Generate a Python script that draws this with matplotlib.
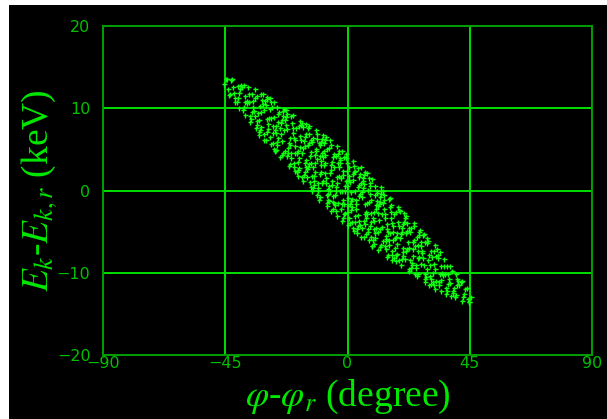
import matplotlib
matplotlib.use("Agg")
import matplotlib.pyplot as plt
from matplotlib.patches import Rectangle

# phase offset (degree) of each macro-particle
phi = [
    -43.6, -44.8, -43.9, -44.3, -43.1, -45.4,
    -42.6, -41.5, -42.1, -41.3, -42.9, -41.8,
    -39.8, -39.4, -40.4, -39.2, -40.7, -40.0, -40.2,
    -38.0, -38.2, -37.7, -37.6, -38.8, -37.9, -38.3, -37.1,
    -35.9, -36.3, -35.1, -36.6, -35.5, -36.1, -35.3, -36.9, -35.8,
    -34.1, -33.3, -34.9, -33.8, -33.4, -34.4, -33.2, -34.7, -34.0, -34.2,
    -32.4, -31.2, -32.7, -32.0, -32.2, -31.7, -31.6, -32.8, -31.9, -32.3, -31.1, -32.6,
    -29.7, -29.6, -30.8, -29.9, -30.3, -29.1, -30.6, -29.5, -30.1, -29.3, -30.9, -29.8,
    -27.1, -28.6, -27.5, -28.1, -27.3, -28.9, -27.8, -27.4, -28.4, -27.2, -28.7, -28.0, -28.2,
    -26.9, -25.8, -25.4, -26.4, -25.2, -26.7, -26.0, -26.2, -25.7, -25.6, -26.8, -25.9, -26.3,
    -24.7, -24.0, -24.2, -23.7, -23.6, -24.8, -23.9, -24.3, -23.1, -24.6, -23.5, -24.1, -23.3,
    -22.8, -21.9, -22.3, -21.1, -22.6, -21.5, -22.1, -21.3, -22.9, -21.8, -21.4, -22.4, -21.2, -22.7,
    -19.5, -20.1, -19.3, -20.9, -19.8, -19.4, -20.4, -19.2, -20.7, -20.0, -20.2, -19.7, -19.6, -20.8,
    -17.4, -18.4, -17.2, -18.7, -18.0, -18.2, -17.7, -17.6, -18.8, -17.9, -18.3, -17.1, -18.6, -17.5, -18.1,
    -16.2, -15.7, -15.6, -16.8, -15.9, -16.3, -15.1, -16.6, -15.5, -16.1, -15.3, -16.9, -15.8, -15.4, -16.4, -15.2,
    -14.3, -13.1, -14.6, -13.5, -14.1, -13.3, -14.9, -13.8, -13.4, -14.4, -13.2, -14.7, -14.0, -14.2, -13.7, -13.6, -14.8,
    -11.3, -12.9, -11.8, -11.4, -12.4, -11.2, -12.7, -12.0, -12.2, -11.7, -11.6, -12.8, -11.9, -12.3, -11.1, -12.6, -11.5,
    -9.2, -10.7, -10.0, -10.2, -9.7, -9.6, -10.8, -9.9, -10.3, -9.1, -10.6, -9.5, -10.1, -9.3, -10.9, -9.8, -9.4, -10.4,
    -7.6, -8.8, -7.9, -8.3, -7.1, -8.6, -7.5, -8.1, -7.3, -8.9, -7.8, -7.4, -8.4, -7.2, -8.7, -8.0, -8.2, -7.7,
    -6.6, -5.5, -6.1, -5.3, -6.9, -5.8, -5.4, -6.4, -5.2, -6.7, -6.0, -6.2, -5.7, -5.6, -6.8, -5.9, -6.3, -5.1,
    -3.8, -3.4, -4.4, -3.2, -4.7, -4.0, -4.2, -3.7, -3.6, -4.8, -3.9, -4.3, -3.1, -4.6, -3.5, -4.1, -3.3, -4.9,
    -2.0, -2.2, -1.7, -1.6, -2.8, -1.9, -2.3, -1.1, -2.6, -1.5, -2.1, -1.3, -2.9, -1.8, -1.4, -2.4, -1.2, -2.7,
    0.1, -0.3, 0.9, -0.6, 0.5, -0.1, 0.7, -0.9, 0.2, 0.6, -0.4, 0.8, -0.7, 0.0, -0.2, 0.3, 0.4, -0.8,
    1.9, 2.7, 1.1, 2.2, 2.6, 1.6, 2.8, 1.3, 2.0, 1.8, 2.3, 2.4, 1.2, 2.1, 1.7, 2.9, 1.4, 2.5,
    3.6, 4.8, 3.3, 4.0, 3.8, 4.3, 4.4, 3.2, 4.1, 3.7, 4.9, 3.4, 4.5, 3.9, 4.7, 3.1, 4.2, 4.6,
    6.3, 6.4, 5.2, 6.1, 5.7, 6.9, 5.4, 6.5, 5.9, 6.7, 5.1, 6.2, 6.6, 5.6, 6.8, 5.3, 6.0, 5.8,
    8.9, 7.4, 8.5, 7.9, 8.7, 7.1, 8.2, 8.6, 7.6, 8.8, 7.3, 8.0, 7.8, 8.3, 8.4, 7.2, 8.1, 7.7,
    9.1, 10.2, 10.6, 9.6, 10.8, 9.3, 10.0, 9.8, 10.3, 10.4, 9.2, 10.1, 9.7, 10.9, 9.4, 10.5, 9.9, 10.7,
    11.3, 12.0, 11.8, 12.3, 12.4, 11.2, 12.1, 11.7, 12.9, 11.4, 12.5, 11.9, 12.7, 11.1, 12.2, 12.6, 11.6,
    13.2, 14.1, 13.7, 14.9, 13.4, 14.5, 13.9, 14.7, 13.1, 14.2, 14.6, 13.6, 14.8, 13.3, 14.0, 13.8, 14.3,
    16.5, 15.9, 16.7, 15.1, 16.2, 16.6, 15.6, 16.8, 15.3, 16.0, 15.8, 16.3, 16.4, 15.2, 16.1, 15.7,
    18.6, 17.6, 18.8, 17.3, 18.0, 17.8, 18.3, 18.4, 17.2, 18.1, 17.7, 18.9, 17.4, 18.5, 17.9,
    19.8, 20.3, 20.4, 19.2, 20.1, 19.7, 20.9, 19.4, 20.5, 19.9, 20.7, 19.1, 20.2, 20.6,
    21.7, 22.9, 21.4, 22.5, 21.9, 22.7, 21.1, 22.2, 22.6, 21.6, 22.8, 21.3, 22.0, 21.8,
    24.7, 23.1, 24.2, 24.6, 23.6, 24.8, 23.3, 24.0, 23.8, 24.3, 24.4, 23.2, 24.1,
    26.8, 25.3, 26.0, 25.8, 26.3, 26.4, 25.2, 26.1, 25.7, 26.9, 25.4, 26.5, 25.9,
    28.4, 27.2, 28.1, 27.7, 28.9, 27.4, 28.5, 27.9, 28.7, 27.1, 28.2, 28.6, 27.6,
    29.4, 30.5, 29.9, 30.7, 29.1, 30.2, 30.6, 29.6, 30.8, 29.3, 30.0, 29.8,
    32.2, 32.6, 31.6, 32.8, 31.3, 32.0, 31.8, 32.3, 32.4, 31.2, 32.1, 31.7,
    34.0, 33.8, 34.3, 34.4, 33.2, 34.1, 33.7, 34.9, 33.4, 34.5,
    36.1, 35.7, 36.9, 35.4, 36.5, 35.9, 36.7, 35.1, 36.2,
    37.9, 38.7, 37.1, 38.2, 38.6, 37.6, 38.8, 37.3,
    39.6, 40.8, 39.3, 40.0, 39.8, 40.3, 40.4,
    42.3, 42.4, 41.2, 42.1, 41.7, 42.9,
    44.9, 43.4, 44.5, 43.9, 44.7, 45.6,
]

# energy offset (keV), same order as phi
dE = [
    11.6, 13.5, 12.4, 13.6, 11.7, 12.9,
    13.6, 11.3, 12.6, 10.8, 13.4, 11.9,
    10.0, 12.3, 11.2, 12.8, 10.7, 11.8, 12.7,
    12.8, 10.1, 11.5, 9.2, 12.6, 10.7, 9.8, 10.9,
    8.3, 11.7, 9.5, 12.6, 8.7, 10.8, 11.7, 10.6, 9.1,
    12.3, 8.4, 10.9, 7.6, 11.5, 9.7, 8.0, 10.2, 11.3, 9.1,
    6.8, 10.5, 8.6, 11.7, 7.4, 9.6, 11.0, 9.4, 7.7, 10.3, 11.7, 7.1,
    11.4, 7.1, 9.8, 6.1, 10.9, 8.1, 6.9, 8.7, 10.4, 7.5, 6.2, 11.1,
    5.0, 9.9, 7.0, 10.8, 5.8, 8.8, 10.1, 7.8, 6.5, 8.9, 11.2, 5.6, 8.8,
    10.8, 5.9, 8.3, 4.9, 9.5, 7.3, 5.5, 7.8, 9.3, 6.4, 4.8, 10.1, 7.0,
    4.1, 8.6, 6.0, 9.7, 4.5, 7.6, 9.1, 6.9, 4.8, 8.2, 9.9, 4.3, 7.4,
    9.8, 4.6, 7.5, 3.2, 8.9, 5.8, 4.2, 6.4, 8.6, 5.2, 3.0, 9.3, 5.5, 8.0,
    2.4, 7.6, 4.5, 9.1, 3.3, 6.1, 8.2, 5.4, 4.0, 7.0, 9.2, 2.8, 6.4, 4.6,
    8.5, 3.5, 6.1, 2.2, 7.8, 4.8, 2.7, 5.3, 7.6, 4.0, 1.8, 8.0, 4.6, 6.6, 2.5,
    1.1, 6.5, 3.3, 8.2, 1.9, 5.2, 6.9, 4.6, 2.3, 6.0, 8.1, 1.7, 5.4, 2.8, 7.7, 3.7,
    7.9, 1.8, 5.5, 0.4, 6.9, 3.4, 1.7, 4.2, 6.2, 2.8, 0.0, 7.6, 3.2, 5.8, 1.0, 4.7, 2.6,
    -0.6, 5.9, 2.2, 6.9, 0.7, 3.8, 6.4, 3.3, 1.2, 4.8, 7.3, 0.3, 4.3, 1.8, 6.3, 2.9, 5.1,
    6.7, 0.9, 4.2, -0.8, 5.9, 2.2, 0.3, 3.1, 5.5, 1.2, -1.1, 6.3, 2.0, 4.5, -0.1, 3.6, 0.9, 5.8,
    -1.9, 4.8, 0.9, 6.2, -1.1, 3.1, 5.1, 2.1, -0.4, 4.1, 6.5, -1.5, 3.4, 0.2, 5.8, 1.5, 4.3, -0.6,
    6.1, -0.7, 3.1, -2.3, 5.2, 1.1, -1.4, 2.1, 4.1, 0.5, -2.5, 5.5, 0.7, 3.5, -1.3, 2.5, -0.1, 4.4,
    -3.1, 3.3, -0.1, 4.8, -1.8, 1.7, 4.2, 0.9, -1.5, 2.9, 5.4, -2.5, 1.8, -0.6, 4.4, 0.4, 2.9, -1.5,
    4.8, -1.7, 1.9, -3.4, 4.0, 0.0, -2.3, 0.5, 3.3, -1.1, -3.7, 4.1, -0.1, 2.4, -2.9, 1.5, -1.6, 3.7,
    -4.2, 2.4, -1.6, 4.0, -3.3, 0.6, 2.8, 0.0, -2.6, 1.3, 4.4, -3.9, 1.1, -1.9, 3.4, -0.9, 1.8, -2.7,
    3.6, -3.1, 1.0, -4.5, 2.4, -1.0, -3.8, -0.2, 2.0, -2.0, -4.9, 3.0, -1.3, 1.3, -3.8, -0.1, -2.4, 2.2,
    -5.2, 0.9, -2.3, 2.7, -4.3, -0.7, 1.7, -1.2, -3.7, 0.4, 2.9, -4.7, -0.4, -3.0, 2.0, -1.7, 0.7, -4.2,
    2.3, -4.1, -0.2, -5.6, 1.5, -2.6, -4.5, -1.7, 0.8, -3.4, -5.7, 1.9, -2.8, 0.3, -5.3, -0.8, -3.7, 1.2,
    -6.7, 0.1, -3.8, 1.5, -5.7, -1.5, 0.5, -2.7, -4.7, -1.1, 2.1, -6.0, -1.4, -4.3, 0.9, -2.9, -0.4, -5.1,
    1.4, -5.2, -1.8, -6.5, -0.1, -3.3, -5.8, -2.6, -0.5, -4.5, -6.8, 0.6, -3.7, -1.3, -6.0, -2.3, -4.7, -0.3,
    -7.2, -1.4, -4.7, 0.0, -6.6, -2.7, -0.8, -3.6, -6.1, -1.9, 0.4, -6.9, -2.8, -5.0, -0.4, -4.4, -1.6,
    -0.1, -6.1, -2.8, -7.8, -1.1, -4.7, -6.7, -4.1, -1.5, -5.5, -8.1, -0.6, -5.1, -2.2, -7.1, -3.3, -5.9,
    -8.4, -2.6, -6.0, -1.0, -7.4, -4.3, -2.0, -5.1, -6.6, -3.4, -0.9, -7.9, -4.0, -6.0, -1.8, -5.2,
    -2.0, -7.0, -4.3, -8.2, -2.6, -5.6, -7.7, -5.2, -2.9, -6.5, -8.6, -2.4, -5.8, -3.8, -7.9,
    -9.0, -4.1, -7.0, -2.5, -8.3, -5.3, -3.8, -5.8, -8.0, -4.6, -2.7, -8.4, -5.1, -7.5,
    -3.1, -8.4, -5.2, -9.5, -4.0, -7.0, -8.3, -6.3, -4.6, -7.4, -9.8, -3.4, -7.1, -4.9,
    -10.2, -5.0, -8.0, -4.3, -9.1, -6.8, -4.6, -7.1, -8.8, -6.0, -4.0, -9.4, -6.3,
    -4.8, -9.0, -6.6, -10.2, -5.4, -8.1, -9.4, -7.4, -5.7, -8.9, -10.4, -5.1, -8.2,
    -11.1, -6.3, -9.1, -5.4, -10.5, -7.6, -6.3, -8.2, -10.1, -6.8, -5.3, -10.8, -7.4,
    -5.8, -10.4, -7.8, -11.4, -6.4, -9.1, -10.8, -8.4, -7.3, -9.5, -11.5, -6.2,
    -12.0, -8.0, -10.0, -7.1, -11.1, -8.9, -7.4, -9.5, -11.0, -8.1, -6.6, -11.5,
    -7.5, -11.1, -9.2, -12.2, -7.8, -10.2, -11.5, -10.0, -8.2, -10.9,
    -12.6, -9.2, -11.4, -8.3, -12.2, -10.1, -9.2, -10.3, -11.8,
    -9.2, -12.2, -10.2, -12.8, -9.8, -11.2, -12.5, -10.7,
    -13.0, -11.0, -11.9, -10.2, -12.7, -11.5, -10.7,
    -11.0, -13.0, -11.5, -13.4, -11.1, -12.6,
    -13.5, -12.0, -13.2, -11.8, -13.6, -12.9,
]

x_ticks = [-90, -45, 0, 45, 90]
y_ticks = [-20, -10, 0, 10, 20]
x_grid = [-45, 0, 45]
y_grid = [-10, 0, 10]

plt.rcParams["mathtext.fontset"] = "stix"

fig = plt.figure(figsize=(6.07, 4.19), dpi=100, facecolor="white")
# black canvas with thin white strip on the left and top
fig.add_artist(Rectangle((9 / 607, 0), 1, 1 - 5 / 419, transform=fig.transFigure,
                         facecolor="black", edgecolor="none", zorder=-10))

ax = fig.add_axes([103 / 607, 1 - 355 / 419, 489 / 607, 329 / 419])
ax.set_facecolor("black")
ax.set_xlim(-90, 90)
ax.set_ylim(-20, 20)

for gx in x_grid:
    ax.axvline(gx, color="#00e000", lw=1.4, zorder=1)
for gy in y_grid:
    ax.axhline(gy, color="#00e000", lw=1.4, zorder=1)

ax.plot(phi, dE, "+", color="#10ff10", ms=3.6, mew=1.0, zorder=3)

for s in ax.spines.values():
    s.set_color("#00a000")
    s.set_linewidth(1.4)

ax.set_xticks(x_ticks)
ax.set_yticks(y_ticks)
ax.tick_params(axis="both", length=0, labelcolor="#00c000", labelsize=11.5)
ax.tick_params(axis="y", pad=9)
ax.tick_params(axis="x", pad=1)

ax.set_xlabel(r"$\varphi$-$\varphi_r$ (degree)", family="Liberation Serif",
              fontsize=27, color="#00e800")
ax.set_ylabel(r"$E_k$-$E_{k,r}$ (keV)", family="Liberation Serif",
              fontsize=27, color="#00e800")
ax.xaxis.set_label_coords(0.5, -0.068)
ax.yaxis.set_label_coords(-0.09, 0.5)

fig.savefig("out.png", dpi=100, facecolor=fig.get_facecolor())
